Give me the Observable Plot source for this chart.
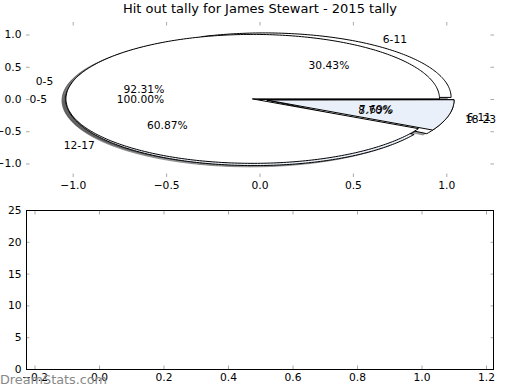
<!DOCTYPE html>
<html><head><meta charset="utf-8">
<script src="https://cdn.jsdelivr.net/npm/d3@7"></script>
<script src="https://cdn.jsdelivr.net/npm/@observablehq/plot@0.6"></script>
<style>
body{margin:0;background:#fff;}
#wrap{position:relative;width:520px;height:390px;font-family:"DejaVu Sans",sans-serif;overflow:hidden;background:#fff;}
#top{position:absolute;left:0;top:0;}
#bottom{position:absolute;left:0;top:195px;}
#title{position:absolute;top:1px;left:0;width:520px;text-align:center;font-size:13px;color:#000;line-height:16px;}
#wm{position:absolute;left:0;top:372px;font-size:12.8px;color:#888888;line-height:15px;}
</style></head><body>
<div id="wrap"><div id="top"></div><div id="bottom"></div>
<div id="title">Hit out tally for James Stewart - 2015 tally</div>
<div id="wm">DreamStats.com</div></div>
<script>
// ---- data ----
const pieBLabels = ["0-5"];
const pieBValues = [1];
const pieCLabels = ["6-11", "12-17", "18-23"];
const pieCValues = [7, 14, 2];
const pieALabels = ["0-5", "6-11"];
const pieAValues = [12, 1];
const sliceColors = ["white", "#eaf0fa", "white"];
const explodeAmt = 0.04;
const shadowShift = 0.02;
const xTicksTop = [-1, -0.5, 0, 0.5, 1];
const yTicksTop = [-1, -0.5, 0, 0.5, 1];
const xTicksBottom = [-0.2, 0, 0.2, 0.4, 0.6, 0.8, 1.0, 1.2];
const yTicksBottom = [0, 5, 10, 15, 20, 25];

// ---- geometry built from the data ----
const wedgeRows = [], shadowRows = [], labelRows = [], pctRows = [];
function buildPie(labels, values, pieId) {
  const total = d3.sum(values);
  let start = 0;
  values.forEach((v, i) => {
    const frac = v / total;
    const t1 = start, t2 = start + frac;
    const tm = Math.PI * (t1 + t2);
    const cx = explodeAmt * Math.cos(tm), cy = explodeAmt * Math.sin(tm);
    const a1 = 2 * Math.PI * t1, a2 = 2 * Math.PI * t2;
    const n = Math.max(2, Math.ceil((a2 - a1) / (Math.PI / 180)));
    const id = pieId + "-" + i;
    const pts = [[cx, cy]];
    for (let k = 0; k <= n; k++) {
      const a = a1 + (a2 - a1) * k / n;
      pts.push([cx + Math.cos(a), cy + Math.sin(a)]);
    }
    pts.forEach(([x, y]) => {
      wedgeRows.push({id, fill: sliceColors[i % sliceColors.length], x, y});
      shadowRows.push({id, x: x - shadowShift, y: y - shadowShift});
    });
    const lx = cx + 1.1 * Math.cos(tm), ly = cy + 1.1 * Math.sin(tm);
    labelRows.push({x: lx, y: ly, text: labels[i], side: lx > 0 ? "left" : "right"});
    pctRows.push({x: cx + 0.6 * Math.cos(tm), y: cy + 0.6 * Math.sin(tm), text: (100 * frac).toFixed(2) + "%"});
    start = t2;
  });
}
buildPie(pieBLabels, pieBValues, "B");
buildPie(pieCLabels, pieCValues, "C");
buildPie(pieALabels, pieAValues, "A");

const fmt1 = d => d.toFixed(1).replace("-", "\u2212");
const fmt0 = d => String(d);
const FS = 10.7;
const tickColor = "#a8a8a8";
const style = {fontFamily: "DejaVu Sans, sans-serif", fontSize: FS + "px", background: "transparent", color: "#000", overflow: "visible"};

function inwardTicks(xt, yt) {
  return [
    Plot.axisX(xt, {anchor: "bottom", tickSize: -3.5, tickFormat: () => "", stroke: tickColor}),
    Plot.axisX(xt, {anchor: "top", tickSize: -3.5, tickFormat: () => "", stroke: tickColor}),
    Plot.axisY(yt, {anchor: "left", tickSize: -3.5, tickFormat: () => "", stroke: tickColor}),
    Plot.axisY(yt, {anchor: "right", tickSize: -3.5, tickFormat: () => "", stroke: tickColor})
  ];
}

const topPlot = Plot.plot({
  width: 520, height: 195,
  marginTop: 21, marginBottom: 18, marginLeft: 26, marginRight: 27,
  x: {domain: [-1.25, 1.25], label: null},
  y: {domain: [-1.21, 1.21], label: null},
  color: {type: "identity"},
  style,
  marks: [
    Plot.line(shadowRows, {x: "x", y: "y", z: "id", fill: "#4d4d4d", fillOpacity: 0.5, stroke: "#4d4d4d", strokeOpacity: 0.5, strokeWidth: 1, curve: "linear-closed"}),
    Plot.line(wedgeRows, {x: "x", y: "y", z: "id", fill: "fill", stroke: "black", strokeWidth: 1, curve: "linear-closed"}),
    ...inwardTicks(xTicksTop, yTicksTop),
    Plot.axisX(xTicksTop, {anchor: "bottom", tickSize: 0, tickPadding: 4, tickFormat: fmt1, fontSize: FS, label: null}),
    Plot.axisY(yTicksTop, {anchor: "left", tickSize: 0, tickPadding: 5, tickFormat: fmt1, fontSize: FS, label: null}),
    Plot.text(labelRows.filter(d => d.side === "right"), {x: "x", y: "y", text: "text", textAnchor: "end", fontSize: FS, fill: "black"}),
    Plot.text(labelRows.filter(d => d.side === "left"), {x: "x", y: "y", text: "text", textAnchor: "start", fontSize: FS, fill: "black"}),
    Plot.text(pctRows, {x: "x", y: "y", text: "text", textAnchor: "middle", fontSize: FS, fill: "black"})
  ]
});
document.getElementById("top").appendChild(topPlot);

const bottomPlot = Plot.plot({
  width: 520, height: 195,
  marginTop: 15, marginBottom: 21, marginLeft: 26, marginRight: 27,
  x: {domain: [-0.2264, 1.2217], label: null},
  y: {domain: [0, 25], label: null},
  style,
  marks: [
    ...inwardTicks(xTicksBottom, yTicksBottom),
    Plot.frame({stroke: "black", strokeWidth: 1}),
    Plot.axisX(xTicksBottom, {anchor: "bottom", tickSize: 0, tickPadding: 4, tickFormat: fmt1, fontSize: FS, label: null}),
    Plot.axisY(yTicksBottom, {anchor: "left", tickSize: 0, tickPadding: 5, tickFormat: fmt0, fontSize: FS, label: null})
  ]
});
document.getElementById("bottom").appendChild(bottomPlot);
</script>
</body></html>
